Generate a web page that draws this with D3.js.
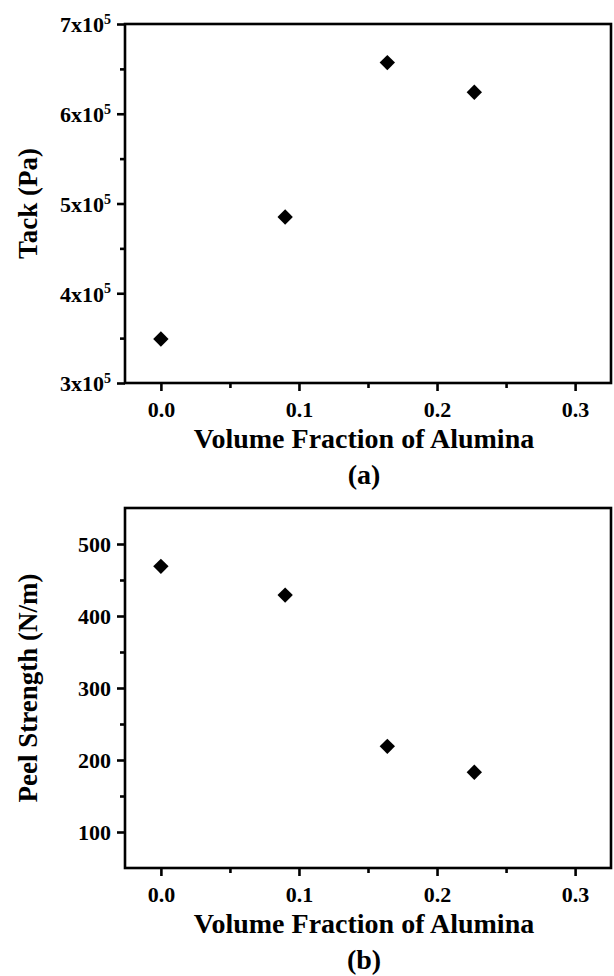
<!DOCTYPE html>
<html>
<head>
<meta charset="utf-8">
<script src="https://cdn.jsdelivr.net/npm/d3@7"></script>
<style>
  html, body { margin: 0; padding: 0; background: #fff; }
  svg { display: block; }
  text { font-family: "Liberation Serif", "Times New Roman", serif; font-weight: bold; fill: #000; }
</style>
</head>
<body>
<svg id="chart" width="614" height="976"></svg>
<script>
// ---- data ----
const volumeFraction = [0.0, 0.09, 0.164, 0.227];
const tackPa = [3.49e5, 4.85e5, 6.57e5, 6.24e5];
const peelStrength = [469, 429, 219, 183];

const xTicks = [0.0, 0.1, 0.2, 0.3];
const xMinorTicks = [0.05, 0.15, 0.25];
const tackTicks = [3e5, 4e5, 5e5, 6e5, 7e5];
const tackTickLabels = ["3x10", "4x10", "5x10", "6x10", "7x10"];
const tackMinorTicks = [3.5e5, 4.5e5, 5.5e5, 6.5e5];
const peelTicks = [100, 200, 300, 400, 500];
const peelMinorTicks = [150, 250, 350, 450];

const xLabel = "Volume Fraction of Alumina";
const tackLabel = "Tack (Pa)";
const peelLabel = "Peel Strength (N/m)";
const panelLabels = ["(a)", "(b)"];

// ---- layout ----
const svg = d3.select("#chart");
const left = 125, right = 611;
const panels = [
  { top: 24, bottom: 383, domain: [3e5, 7e5], values: tackPa, ticks: tackTicks, minor: tackMinorTicks,
    labels: tackTickLabels, sup: "5", ylabel: tackLabel, tag: panelLabels[0] },
  { top: 508, bottom: 868, domain: [50, 550], values: peelStrength, ticks: peelTicks, minor: peelMinorTicks,
    labels: null, sup: null, ylabel: peelLabel, tag: panelLabels[1] }
];

const lw = 2.6;

panels.forEach(p => {
  const x = d3.scaleLinear().domain([-0.026, 0.326]).range([left, right]);
  const y = d3.scaleLinear().domain(p.domain).range([p.bottom, p.top]);

  const g = svg.append("g");

  // frame
  g.append("rect")
    .attr("x", left).attr("y", p.top)
    .attr("width", right - left).attr("height", p.bottom - p.top)
    .attr("fill", "none").attr("stroke", "#000").attr("stroke-width", lw);

  // x axis major
  const xa = g.append("g").attr("transform", `translate(0,${p.bottom})`)
    .call(d3.axisBottom(x).tickValues(xTicks).tickSize(8).tickSizeOuter(0).tickFormat(d3.format(".1f")));
  xa.select(".domain").remove();
  xa.selectAll("line").attr("stroke-width", lw);
  xa.selectAll("text").attr("y", 34).attr("dy", null)
    .style("font-size", "22px").style("font-family", "Liberation Serif").style("font-weight", "bold");

  // x axis minor
  const xm = g.append("g").attr("transform", `translate(0,${p.bottom})`)
    .call(d3.axisBottom(x).tickValues(xMinorTicks).tickSize(5).tickSizeOuter(0).tickFormat(""));
  xm.select(".domain").remove();
  xm.selectAll("line").attr("stroke-width", lw);

  // y axis major
  const ya = g.append("g").attr("transform", `translate(${left},0)`)
    .call(d3.axisLeft(y).tickValues(p.ticks).tickSize(8).tickSizeOuter(0).tickFormat(d3.format("d")));
  ya.select(".domain").remove();
  ya.selectAll("line").attr("stroke-width", lw);
  ya.selectAll("text").attr("x", -14).attr("dy", "0.36em")
    .style("font-size", "22px").style("font-family", "Liberation Serif").style("font-weight", "bold");
  if (p.labels) {
    ya.selectAll("text").each(function(d, i) {
      const t = d3.select(this);
      t.text(null);
      t.append("tspan").text(p.labels[i]);
      t.append("tspan").attr("dy", "-0.6em").style("font-size", "14px").text(p.sup);
    });
  }

  // y axis minor
  const ym = g.append("g").attr("transform", `translate(${left},0)`)
    .call(d3.axisLeft(y).tickValues(p.minor).tickSize(5).tickSizeOuter(0).tickFormat(""));
  ym.select(".domain").remove();
  ym.selectAll("line").attr("stroke-width", lw);

  // markers
  g.selectAll("path.pt").data(volumeFraction.map((v, i) => [v, p.values[i]]))
    .join("path").attr("class", "pt")
    .attr("d", d3.symbol(d3.symbolSquare, 118))
    .attr("transform", d => `translate(${x(d[0])},${y(d[1])}) rotate(45)`)
    .attr("fill", "#000");

  // x title
  const cx = (left + right) / 2;
  g.append("text").attr("x", cx - 4).attr("y", p.bottom + 65)
    .attr("text-anchor", "middle").style("font-size", "28px").text(xLabel);
  // panel tag
  g.append("text").attr("x", cx - 4).attr("y", p.bottom + 101)
    .attr("text-anchor", "middle").style("font-size", "28px").text(p.tag);
  // y title
  const cy = (p.top + p.bottom) / 2;
  g.append("text").attr("transform", `translate(37,${cy}) rotate(-90)`)
    .attr("text-anchor", "middle").style("font-size", "27px").text(p.ylabel);
});
</script>
</body>
</html>
